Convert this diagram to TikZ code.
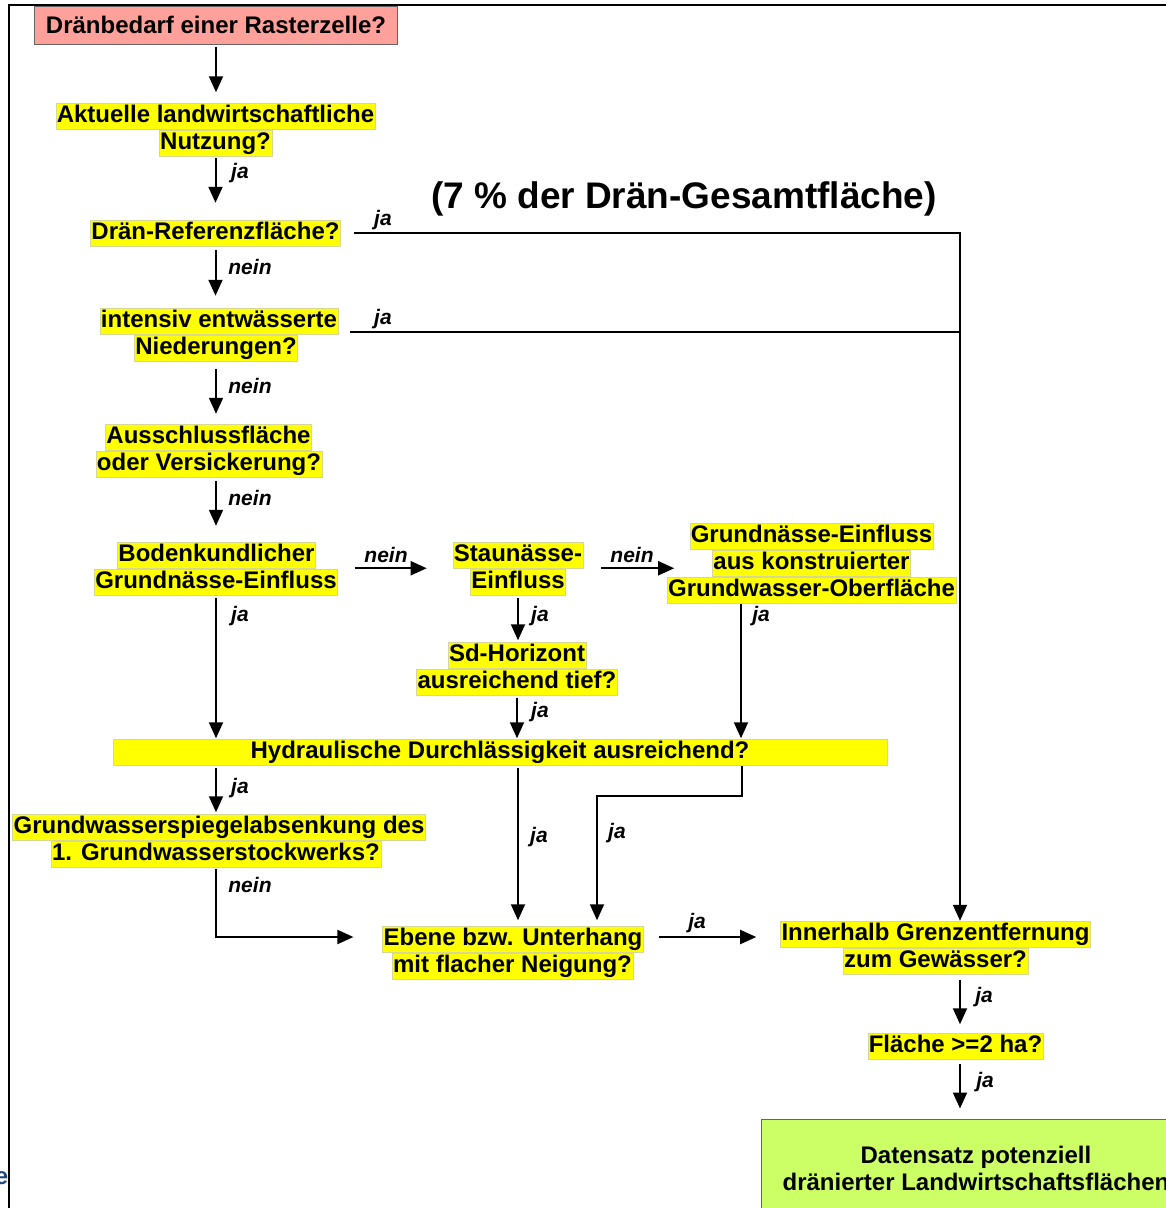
\documentclass[tikz,border=0pt]{standalone}
\usepackage{fontspec}
\setmainfont{Liberation Sans}
\usetikzlibrary{arrows.meta,calc}
\newcommand\qfont{\bfseries\fontsize{24}{27}\selectfont}
\newcommand\lfont{\bfseries\itshape\fontsize{21}{24}\selectfont}
\definecolor{hlyellow}{RGB}{255,255,0}
\definecolor{hledge}{RGB}{215,215,150}
\definecolor{pinkbox}{RGB}{255,160,154}
\definecolor{greenbox}{RGB}{204,255,102}
\definecolor{boxedge}{RGB}{100,100,100}
\definecolor{blueletter}{RGB}{31,73,125}
\tikzset{
  hl/.style={fill=hlyellow, draw=hledge, line width=0.5pt, inner xsep=1pt, inner ysep=0pt,
    text height=19pt, text depth=7pt, font=\qfont},
  lbl/.style={font=\lfont, inner sep=0pt},
  conn/.style={line width=2pt, -{Triangle[length=16pt,width=14pt]}},
  plain/.style={line width=2pt},
}
\begin{document}
\begin{tikzpicture}[x=1pt,y=-1pt]
\useasboundingbox (0,0) rectangle (1166,1208);
\clip (0,0) rectangle (1166,1208);
% frame
\draw[line width=2.2pt] (9,1210) -- (9,5) -- (1170,5);
\node[anchor=east, inner sep=0pt, text=blueletter, font=\qfont] (blue) at (8.5,1178) {e};
% title
\node[font=\bfseries\fontsize{37}{42}\selectfont, inner sep=0pt] (title) at (684,199) {(7 \% der Drän-Gesamtfläche)};
% nodes
\node[fill=pinkbox, draw=boxedge, line width=1pt, minimum width=363pt, minimum height=38pt, inner sep=0pt, font=\qfont] (n1) at (216,25) {\raisebox{-1pt}{Dränbedarf einer Rasterzelle?}};
\node[hl] (n2a) at (215.5,116.5) {Aktuelle landwirtschaftliche};
\node[hl] (n2b) at (215.5,143.5) {Nutzung?};
\node[hl] (n3) at (215.5,233) {Drän-Referenzfläche?};
\node[hl] (n4a) at (219,321) {intensiv entwässerte\hspace{6pt}};
\node[hl] (n4b) at (216,348) {Niederungen?};
\node[hl] (n5a) at (208.5,437) {Ausschlussfläche};
\node[hl] (n5b) at (209,464) {oder Versickerung?};
\node[hl] (n6a) at (216.5,555) {Bodenkundlicher};
\node[hl] (n6b) at (216,582) {Grundnässe-Einfluss};
\node[hl] (n7a) at (518,555) {Staunässe-};
\node[hl] (n7b) at (518,582) {Einfluss};
\node[hl] (n8a) at (811.5,536) {Grundnässe-Einfluss};
\node[hl] (n8b) at (811.5,563) {aus konstruierter};
\node[hl] (n8c) at (811.5,590) {Grundwasser-Oberfläche};
\node[hl] (n9a) at (517,655) {Sd-Horizont};
\node[hl] (n9b) at (517,682) {ausreichend tief?};
\node[hl, minimum width=774pt] (n10) at (500,752.5) {Hydraulische Durchlässigkeit ausreichend?};
\node[hl] (n11a) at (219,827) {Grundwasserspiegelabsenkung des\hspace{6pt}};
\node[hl] (n11b) at (216,854) {1. Grundwasserstockwerks?};
\node[hl] (n12a) at (513,939) {Ebene bzw. Unterhang};
\node[hl] (n12b) at (512.5,966) {mit flacher Neigung?};
\node[hl] (n13a) at (935.5,934) {Innerhalb Grenzentfernung};
\node[hl] (n13b) at (935.5,961) {zum Gewässer?};
\node[hl] (n14) at (955.5,1046) {Fläche >=2 ha?};
\node[fill=greenbox, draw=boxedge, line width=1pt, minimum width=430pt, minimum height=99pt, align=center, inner sep=0pt, font=\qfont] (n15) at (976,1168.5) {Datensatz potenziell\\dränierter Landwirtschaftsflächen};
% helper coordinates
\coordinate (jc) at (960,233);
\coordinate (c8) at (741,604);
\coordinate (bend) at (742,796);
\coordinate (bend2) at (597,796);
% connectors
\draw[conn, shorten <=2pt, shorten >=11pt] (n1.south) -- (n1.south |- n2a.north);
\draw[conn, shorten <=1pt, shorten >=17pt] (n2b.south) -- (n2b.south |- n3.north);
\node[lbl] (l1) at (240,173) {ja};
\draw[conn, shorten <=4pt, shorten >=12pt] (n3.south) -- (n3.south |- n4a.north);
\node[lbl] (l2) at (250,267) {nein};
\draw[conn, shorten <=8pt, shorten >=10pt] (n4b.south) -- (n4b.south |- n5a.north);
\node[lbl] (l3) at (250,386) {nein};
\draw[conn, shorten <=4pt, shorten >=16pt] (n5b.south -| n6b.south) -- (n6a.north -| n6b.south);
\node[lbl] (l4) at (250,498) {nein};
% Drän-Referenzfläche ja
\draw[conn, shorten <=13pt] (n3.east) -- (jc) -- (jc |- n13a.north);
\node[lbl] (l5) at (383,220) {ja};
\draw[plain, shorten <=12pt] ([yshift=2.5pt]n4a.south east) -- ([yshift=2.5pt]n4a.south east -| jc);
\node[lbl] (l6) at (383,319) {ja};
% row Bodenkundlicher -> Staunässe -> Grundnässe
\draw[conn, shorten <=17pt, shorten >=26pt] (n6b.east |- n6a.south) -- (n7a.west |- n6a.south);
\node[lbl] (l7) at (386,555) {nein};
\draw[conn, shorten <=18pt, shorten >=38pt] (n7a.east |- n7a.south) -- (n8b.west |- n7a.south);
\node[lbl] (l8) at (632,555) {nein};
% down to Hydraulische
\draw[conn, shorten <=2.5pt, shorten >=1pt] (n6b.south) -- (n6b.south |- n10.north);
\node[lbl] (l9) at (240,616) {ja};
\draw[conn, shorten <=2.5pt, shorten >=1.5pt] (n7b.south) -- (n7b.south |- n9a.north);
\node[lbl] (l10) at (540,616) {ja};
\draw[conn, shorten <=2.5pt, shorten >=1pt] (n9b.south) -- (n9b.south |- n10.north);
\node[lbl] (l11) at (540,712) {ja};
\draw[conn, shorten >=1pt] (c8) -- (c8 |- n10.north);
\node[lbl] (l12) at (761,616) {ja};
% below Hydraulische
\draw[conn, shorten <=2pt, shorten >=1.5pt] (n10.south -| n6b.south) -- (n11a.north -| n6b.south);
\node[lbl] (l13) at (240,788) {ja};
\draw[conn, shorten <=2pt, shorten >=29pt] (n11b.south) |- ([yshift=2pt]n12a.west);
\node[lbl] (l14) at (250,885) {nein};
\draw[conn, shorten <=2pt, shorten >=5.5pt] (n10.south -| n7b.south) -- (n12a.north -| n7b.south);
\node[lbl] (l15) at (539,837) {ja};
\draw[conn, shorten >=5.5pt] (n10.south -| bend) -- (bend) -- (bend2) -- (bend2 |- n12a.north);
\node[lbl] (l16) at (617,833) {ja};
% Ebene -> Innerhalb
\draw[conn, shorten <=15pt, shorten >=24pt] ([yshift=2pt]n12a.east) -- ([yshift=2pt]n12a.east -| n13a.west);
\node[lbl] (l17) at (697,923) {ja};
% right column
\draw[conn, shorten <=5.5pt, shorten >=8.5pt] (jc |- n13b.south) -- (jc |- n14.north);
\node[lbl] (l18) at (984,997) {ja};
\draw[conn, shorten <=4.5pt, shorten >=10pt] (jc |- n14.south) -- (jc |- n15.north);
\node[lbl] (l19) at (985,1082) {ja};
\end{tikzpicture}
\end{document}
